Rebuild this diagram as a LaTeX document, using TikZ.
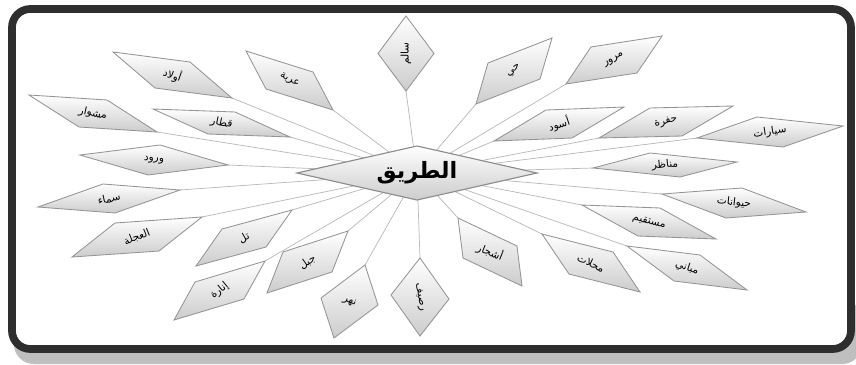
\documentclass[tikz,border=0pt]{standalone}
\usepackage{fontspec}
\usetikzlibrary{shapes.geometric}
\newfontfamily\arabicfont[Script=Arabic]{DejaVu Sans}
\TeXXeTstate=1
\pgfdeclarelayer{framelayer}
\pgfdeclarelayer{edgelayer}
\pgfdeclarelayer{nodelayer}
\pgfsetlayers{framelayer,edgelayer,nodelayer,main}
\tikzstyle{shadow}=[fill=black!25, rounded corners=14pt]
\tikzstyle{frame}=[draw=black!82, line width=5.5pt, fill=white, rounded corners=13pt]
\tikzstyle{spoke}=[draw=black!28, line width=0.5pt]
\tikzstyle{hub}=[diamond, aspect=4.4, draw=black!45, line width=0.8pt, top color=white, bottom color=black!20, inner sep=0pt, outer sep=0pt, minimum width=6cm, minimum height=1.35cm, font=\arabicfont\bfseries\fontsize{16}{18}\selectfont]
\tikzstyle{leaf}=[diamond, draw=black!42, line width=0.6pt, top color=white, bottom color=black!20, inner sep=0pt, outer sep=0pt, minimum width=0.05cm, minimum height=0.05cm, transform shape]
\tikzstyle{leaftext}=[inner sep=0pt, font=\arabicfont\fontsize{7.5}{9}\selectfont]

\begin{document}
\begin{tikzpicture}[x=0.025cm, y=-0.025cm]
					\useasboundingbox (0,0) rectangle (856,364);
					\begin{pgfonlayer}{framelayer}
						\fill [style=shadow] (14,300) rectangle (862,364);
						\draw [style=frame] (12,9) rectangle (851,349);
					\end{pgfonlayer}
					\begin{pgfonlayer}{nodelayer}
						\node [style=hub] (road) at (417,173) {\beginR الطريق\endR};
						\node [style=leaf, cm={28,0,0,37.5,(0,0)}] (salem) at (406,53.5) {};
						\node [style=leaf, cm={38,33,-26,8,(0,0)}] (hay) at (514,71) {};
						\node [style=leaf, cm={48,24,-23,13,(0,0)}] (murur) at (614,60) {};
						\node [style=leaf, cm={65,17,-13,14,(0,0)}] (aswad) at (559,124) {};
						\node [style=leaf, cm={67,16,-16,14,(0,0)}] (hufra) at (666,122) {};
						\node [style=leaf, cm={73,6,-13,15,(0,0)}] (sayyarat) at (770,132) {};
						\node [style=leaf, cm={72,3,-15,12,(0,0)}] (manazir) at (665,165) {};
						\node [style=leaf, cm={72,-9,8,15,(0,0)}] (hayawanat) at (734,203) {};
						\node [style=leaf, cm={67,-17,11,14,(0,0)}] (mustaqim) at (649,222) {};
						\node [style=leaf, cm={60,-22,13,13,(0,0)}] (mabani) at (687,268) {};
						\node [style=leaf, cm={49,-29,22,11,(0,0)}] (mahallat) at (591,263) {};
						\node [style=leaf, cm={32,-34,27,6,(0,0)}] (ashjar) at (490,252) {};
						\node [style=leaf, cm={29,-2,0,39,(0,0)}] (rasif) at (420,297) {};
						\node [style=leaf, cm={28.5,-3.5,15.5,36.5,(0,0)}] (nahr) at (349.5,301.5) {};
						\node [style=leaf, cm={40.5,31,-24.5,10,(0,0)}] (jabal) at (307.5,262) {};
						\node [style=leaf, cm={48,28,-22,9,(0,0)}] (tall) at (244,238) {};
						\node [style=leaf, cm={45.5,29.5,-24.5,8.5,(0,0)}] (inara) at (219.5,290.5) {};
						\node [style=leaf, cm={65,20,-22,14,(0,0)}] (ajala) at (137,237) {};
						\node [style=leaf, cm={71,8.5,-6,14.5,(0,0)}] (samaa) at (109,198.5) {};
						\node [style=leaf, cm={74,-5,6,15,(0,0)}] (wurud) at (154,160) {};
						\node [style=leaf, cm={64,-18.5,14,13.5,(0,0)}] (mishwar) at (93,113.5) {};
						\node [style=leaf, cm={68.5,-14,13.5,11,(0,0)}] (qitar) at (221.5,123) {};
						\node [style=leaf, cm={59.5,-23,17.5,13,(0,0)}] (awlad) at (172.5,75) {};
						\node [style=leaf, cm={43.5,-29.5,23.5,8.5,(0,0)}] (araba) at (289.5,80.5) {};
						% labels
						\node [style=leaftext, rotate=90] (salem-t) at (salem) {\beginR سالم\endR};
						\node [style=leaftext, rotate=40] (hay-t) at (hay) {\beginR حي\endR};
						\node [style=leaftext, rotate=30] (murur-t) at (murur) {\beginR مرور\endR};
						\node [style=leaftext, rotate=18] (aswad-t) at (aswad) {\beginR أسود\endR};
						\node [style=leaftext, rotate=14] (hufra-t) at (hufra) {\beginR حفرة\endR};
						\node [style=leaftext, rotate=8] (sayyarat-t) at (sayyarat) {\beginR سيارات\endR};
						\node [style=leaftext, rotate=5] (manazir-t) at (manazir) {\beginR مناظر\endR};
						\node [style=leaftext, rotate=-6] (hayawanat-t) at (hayawanat) {\beginR حيوانات\endR};
						\node [style=leaftext, rotate=-14] (mustaqim-t) at (mustaqim) {\beginR مستقيم\endR};
						\node [style=leaftext, rotate=-18] (mabani-t) at (mabani) {\beginR مباني\endR};
						\node [style=leaftext, rotate=-25] (mahallat-t) at (mahallat) {\beginR محلات\endR};
						\node [style=leaftext, rotate=-22] (ashjar-t) at (ashjar) {\beginR أشجار\endR};
						\node [style=leaftext, rotate=-80] (rasif-t) at (rasif) {\beginR رصيف\endR};
						\node [style=leaftext, rotate=-20] (nahr-t) at (nahr) {\beginR نهر\endR};
						\node [style=leaftext, rotate=35] (jabal-t) at (jabal) {\beginR جبل\endR};
						\node [style=leaftext, rotate=30] (tall-t) at (tall) {\beginR تل\endR};
						\node [style=leaftext, rotate=40] (inara-t) at (inara) {\beginR إنارة\endR};
						\node [style=leaftext, rotate=22] (ajala-t) at (ajala) {\beginR العجلة\endR};
						\node [style=leaftext, rotate=12] (samaa-t) at (samaa) {\beginR سماء\endR};
						\node [style=leaftext, rotate=-4] (wurud-t) at (wurud) {\beginR ورود\endR};
						\node [style=leaftext, rotate=-12] (mishwar-t) at (mishwar) {\beginR مشوار\endR};
						\node [style=leaftext, rotate=-12] (qitar-t) at (qitar) {\beginR قطار\endR};
						\node [style=leaftext, rotate=-20] (awlad-t) at (awlad) {\beginR أولاد\endR};
						\node [style=leaftext, rotate=-28] (araba-t) at (araba) {\beginR عربة\endR};
					\end{pgfonlayer}
					\begin{pgfonlayer}{edgelayer}
						\draw [style=spoke] (road) to (salem.south);
						\draw [style=spoke] (road) to (hay.west);
						\draw [style=spoke] (road) to (murur.west);
						\draw [style=spoke] (road) to (aswad.west);
						\draw [style=spoke] (road) to (hufra.west);
						\draw [style=spoke] (road) to (sayyarat.west);
						\draw [style=spoke] (road) to (manazir.west);
						\draw [style=spoke] (road) to (hayawanat.west);
						\draw [style=spoke] (road) to (mustaqim.west);
						\draw [style=spoke] (road) to (mabani.west);
						\draw [style=spoke] (road) to (mahallat.west);
						\draw [style=spoke] (road) to (ashjar.west);
						\draw [style=spoke] (road) to (rasif.north);
						\draw [style=spoke] (road) to (nahr.north);
						\draw [style=spoke] (road) to (jabal.east);
						\draw [style=spoke] (road) to (tall.east);
						\draw [style=spoke] (road) to (inara.east);
						\draw [style=spoke] (road) to (ajala.east);
						\draw [style=spoke] (road) to (samaa.east);
						\draw [style=spoke] (road) to (wurud.east);
						\draw [style=spoke] (road) to (mishwar.east);
						\draw [style=spoke] (road) to (qitar.east);
						\draw [style=spoke] (road) to (awlad.east);
						\draw [style=spoke] (road) to (araba.east);
					\end{pgfonlayer}
				\end{tikzpicture}
\end{document}
